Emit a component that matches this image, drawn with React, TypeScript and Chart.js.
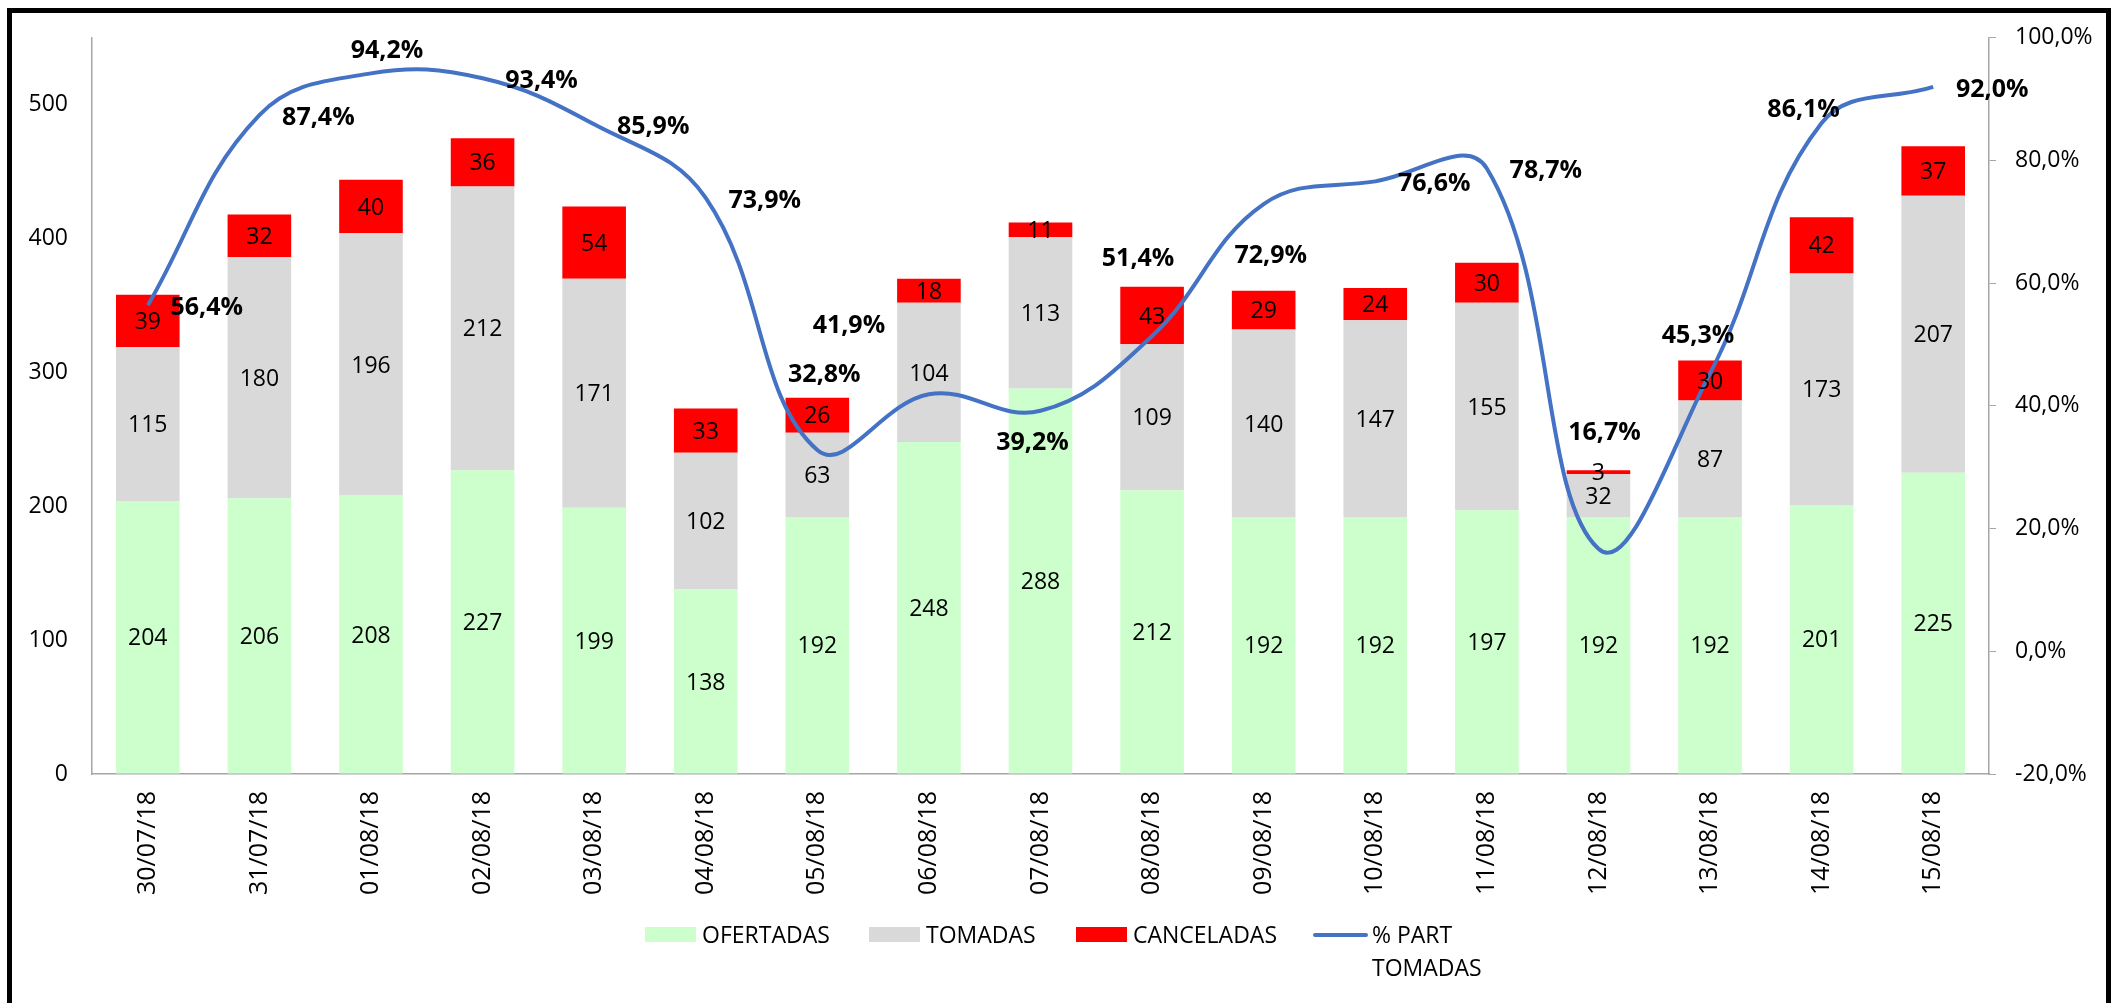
import React, { useEffect, useRef } from "react";
import { Chart, registerables } from "chart.js";

Chart.register(...registerables);

const categories = [
  "30/07/18", "31/07/18", "01/08/18", "02/08/18", "03/08/18", "04/08/18",
  "05/08/18", "06/08/18", "07/08/18", "08/08/18", "09/08/18", "10/08/18",
  "11/08/18", "12/08/18", "13/08/18", "14/08/18", "15/08/18",
];
const ofertadas = [204, 206, 208, 227, 199, 138, 192, 248, 288, 212, 192, 192, 197, 192, 192, 201, 225];
const tomadas = [115, 180, 196, 212, 171, 102, 63, 104, 113, 109, 140, 147, 155, 32, 87, 173, 207];
const canceladas = [39, 32, 40, 36, 54, 33, 26, 18, 11, 43, 29, 24, 30, 3, 30, 42, 37];
const partTomadas = [56.4, 87.4, 94.2, 93.4, 85.9, 73.9, 32.8, 41.9, 39.2, 51.4, 72.9, 76.6, 78.7, 16.7, 45.3, 86.1, 92.0];
const leftTicks = [0, 100, 200, 300, 400, 500];
const rightTicks = [-20, 0, 20, 40, 60, 80, 100];

// label placement offsets (style only), pixels relative to the line point
const pctLabelOffsets = [
  [59, 1], [59, 1], [16, -24], [59, 1], [59, 1], [59, 1], [7, -77], [-80, -70], [-8, 30],
  [-14, -79], [7, 50], [59, 1], [59, 1], [6, -118], [-12, -39], [-18, -15], [59, 1],
];

const FONT = "'Open Sans', sans-serif";
const GREEN = "#CCFFCC";
const GRAY = "#D9D9D9";
const RED = "#FF0000";
const BLUE = "#4472C4";
const AXIS = "#A6A6A6";

const fmtPct = (v: number) => v.toFixed(1).replace(".", ",") + "%";

const labelsPlugin = {
  id: "customLabels",
  afterDatasetsDraw(chart: any) {
    const ctx = chart.ctx;
    ctx.save();
    ctx.textAlign = "center";
    ctx.textBaseline = "alphabetic";
    chart.data.datasets.forEach((ds: any, di: number) => {
      const meta = chart.getDatasetMeta(di);
      if (meta.type === "bar") {
        const size = 23;
        ctx.font = `${size}px ${FONT}`;
        ctx.fillStyle = "#000";
        meta.data.forEach((el: any, i: number) => {
          const p = el.getProps(["x", "y", "base"], true);
          ctx.fillText(String(ds.data[i]), p.x, (p.y + p.base) / 2 + size * 0.357);
        });
      } else {
        const size = 25;
        ctx.font = `bold ${size}px ${FONT}`;
        ctx.fillStyle = "#000";
        meta.data.forEach((el: any, i: number) => {
          const off = pctLabelOffsets[i];
          ctx.fillText(fmtPct(ds.data[i]), el.x + off[0], el.y + off[1] + size * 0.357);
        });
      }
    });
    ctx.restore();
  },
  afterDraw(chart: any) {
    const ctx = chart.ctx;
    ctx.save();
    const size = 23;
    ctx.font = `${size}px ${FONT}`;
    ctx.fillStyle = "#000";
    ctx.textAlign = "left";
    ctx.textBaseline = "alphabetic";
    const cy = 935;
    const base = cy + size * 0.357;
    const boxes = [
      { x: 645, color: GREEN, text: "OFERTADAS", tx: 702 },
      { x: 869, color: GRAY, text: "TOMADAS", tx: 926 },
      { x: 1076, color: RED, text: "CANCELADAS", tx: 1133 },
    ];
    boxes.forEach((b) => {
      ctx.fillStyle = b.color;
      ctx.fillRect(b.x, cy - 8, 51, 15);
      ctx.fillStyle = "#000";
      ctx.fillText(b.text, b.tx, base);
    });
    ctx.strokeStyle = BLUE;
    ctx.lineWidth = 4;
    ctx.lineCap = "round";
    ctx.beginPath();
    ctx.moveTo(1315, cy);
    ctx.lineTo(1366, cy);
    ctx.stroke();
    ctx.fillStyle = "#000";
    ctx.fillText("% PART", 1372, base);
    ctx.fillText("TOMADAS", 1372, base + 33);
    ctx.restore();
  },
};

export default function App() {
  const ref = useRef<HTMLCanvasElement>(null);

  useEffect(() => {
    if (!ref.current) return;
    Chart.defaults.font.family = FONT;
    const chart = new Chart(ref.current, {
      type: "bar",
      data: {
        labels: categories,
        datasets: [
          {
            type: "line",
            label: "% PART TOMADAS",
            data: partTomadas,
            yAxisID: "y1",
            borderColor: BLUE,
            backgroundColor: BLUE,
            borderWidth: 4,
            pointRadius: 0,
            tension: 0.4,
            fill: false,
            order: 0,
          } as any,
          { label: "OFERTADAS", data: ofertadas, backgroundColor: GREEN, stack: "s", yAxisID: "y", order: 1 },
          { label: "TOMADAS", data: tomadas, backgroundColor: GRAY, stack: "s", yAxisID: "y", order: 1 },
          { label: "CANCELADAS", data: canceladas, backgroundColor: RED, stack: "s", yAxisID: "y", order: 1 },
        ],
      },
      options: {
        responsive: false,
        animation: false,
        devicePixelRatio: 1,
        layout: { padding: { top: 37, left: 0, right: 0, bottom: 0 } },
        datasets: { bar: { categoryPercentage: 1, barPercentage: 0.57, borderWidth: 0 } },
        plugins: { legend: { display: false }, tooltip: { enabled: false } },
        scales: {
          x: {
            stacked: true,
            grid: { display: true, drawOnChartArea: false, drawTicks: false, color: AXIS },
            border: { display: true, color: AXIS, width: 1.5 },
            ticks: {
              autoSkip: false,
              maxRotation: 90,
              minRotation: 90,
              padding: 17,
              color: "#000",
              font: { size: 25, family: FONT },
            },
            afterFit: (s: any) => { s.height = 229; },
          },
          y: {
            stacked: true,
            position: "left",
            min: 0,
            max: 550,
            grid: { display: true, drawOnChartArea: false, drawTicks: false, color: AXIS },
            border: { display: true, color: AXIS, width: 1.5 },
            ticks: { stepSize: 100, padding: 24, color: "#000", font: { size: 23, family: FONT } },
            afterBuildTicks: (s: any) => {
              s.ticks = leftTicks.map((v) => ({ value: v }));
            },
            afterFit: (s: any) => { s.width = 92; },
          },
          y1: {
            stacked: false,
            position: "right",
            min: -20,
            max: 100,
            grid: { display: true, drawOnChartArea: false, drawTicks: true, tickLength: 7, color: AXIS },
            border: { display: true, color: AXIS, width: 1.5 },
            ticks: {
              stepSize: 20,
              padding: 19,
              color: "#000",
              font: { size: 23, family: FONT },
              callback: (v: any) => fmtPct(Number(v)),
            },
            afterBuildTicks: (s: any) => {
              s.ticks = rightTicks.map((v) => ({ value: v }));
            },
            afterFit: (s: any) => { s.width = 123; },
          },
        },
      } as any,
      plugins: [labelsPlugin],
    });
    return () => chart.destroy();
  }, []);

  return (
    <>
      <canvas
        ref={ref}
        width={2112}
        height={1003}
        style={{ position: "fixed", left: 0, top: 0, width: 2112, height: 1003, display: "block", background: "#fff" }}
      />
      <div
        style={{
          position: "fixed",
          left: 7,
          top: 8,
          width: 2104,
          height: 1100,
          border: "5px solid #000",
          boxSizing: "border-box",
          pointerEvents: "none",
        }}
      />
    </>
  );
}
